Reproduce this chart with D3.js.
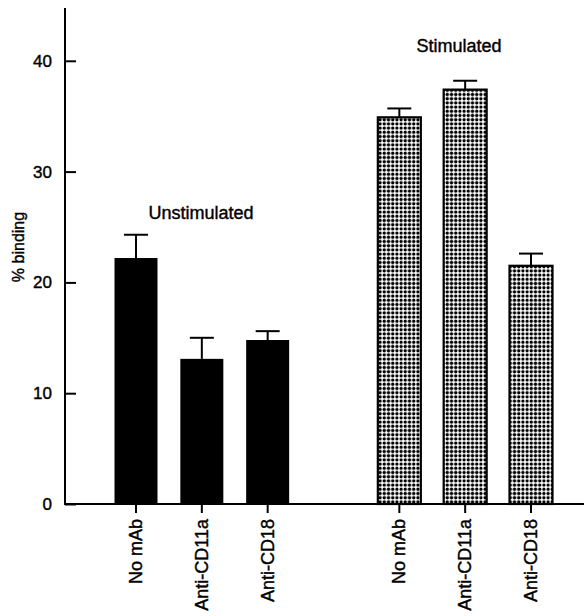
<!DOCTYPE html>
<html>
<head>
<meta charset="utf-8">
<script src="https://cdn.jsdelivr.net/npm/d3@7"></script>
<style>
  body { margin: 0; background: #fff; }
  text { font-family: "Liberation Sans", Arial, Helvetica, sans-serif; fill: #000; stroke: #000; stroke-width: 0.4px; }
</style>
</head>
<body>
<div id="chart"></div>
<script>
// data
let groups = ["Unstimulated", "Stimulated"];
let treatments = ["No mAb", "Anti-CD11a", "Anti-CD18"];
let unstimMean = [22.2, 13.1, 14.8];
let unstimErr = [2.1, 1.9, 0.8];
let stimMean = [34.9, 37.4, 21.5];
let stimErr = [0.8, 0.8, 1.1];
let yTicks = [0, 10, 20, 30, 40];

const W = 584, H = 616;
const svg = d3.select("#chart").append("svg")
    .attr("width", W)
    .attr("height", H);

// dot fill for stimulated bars
const defs = svg.append("defs");
const pat = defs.append("pattern")
    .attr("id", "dots")
    .attr("patternUnits", "userSpaceOnUse")
    .attr("width", 4.2)
    .attr("height", 4.2);
pat.append("rect").attr("width", 4.2).attr("height", 4.2).attr("fill", "#fff");
pat.append("circle").attr("cx", 2.1).attr("cy", 2.1).attr("r", 1.65).attr("fill", "#000");

const axisX = 65, baseY = 504;

const y = d3.scaleLinear()
    .domain([0, 10])
    .range([baseY, baseY - 110.8]);

// slot position: 3 bars, one empty slot, 3 bars
const x = d3.scaleLinear()
    .domain([0, 6])
    .range([136, 531]);
const barW = 43;

let bars = [];
groups.forEach((g, gi) => {
    let means = gi === 0 ? unstimMean : stimMean;
    let errs = gi === 0 ? unstimErr : stimErr;
    treatments.forEach((t, i) => {
        bars.push({ group: g, gi: gi, name: t, slot: gi * 4 + i, mean: means[i], err: errs[i] });
    });
});

// y axis, ticks pointing inward
const yAxis = d3.axisRight(y)
    .tickValues(yTicks)
    .tickSize(11)
    .tickFormat("");
const ya = svg.append("g")
    .attr("transform", `translate(${axisX},0)`)
    .call(yAxis);
ya.select(".domain").remove();
ya.selectAll(".tick line").attr("stroke", "#000").attr("stroke-width", 2);

svg.append("line")
    .attr("x1", axisX).attr("x2", axisX)
    .attr("y1", 8).attr("y2", baseY + 1)
    .attr("stroke", "#000").attr("stroke-width", 2);

svg.append("g").selectAll("text")
    .data(yTicks)
    .join("text")
    .attr("x", 52)
    .attr("y", d => y(d) + 6)
    .attr("text-anchor", "end")
    .style("font-size", "17px")
    .text(d => d);

svg.append("text")
    .attr("transform", `translate(24,247) rotate(-90)`)
    .attr("text-anchor", "middle")
    .style("font-size", "16px")
    .text("% binding");

// bars
svg.append("g").selectAll("rect")
    .data(bars)
    .join("rect")
    .attr("x", d => x(d.slot) - barW / 2)
    .attr("y", d => y(d.mean))
    .attr("width", barW)
    .attr("height", d => baseY - y(d.mean))
    .attr("fill", d => d.gi === 0 ? "#000" : "url(#dots)")
    .attr("stroke", "#000")
    .attr("stroke-width", d => d.gi === 0 ? 0 : 2.2);

// error bars (upper only)
const eb = svg.append("g")
    .attr("stroke", "#000")
    .attr("stroke-width", 2);
eb.selectAll("line.v")
    .data(bars)
    .join("line")
    .attr("class", "v")
    .attr("x1", d => x(d.slot)).attr("x2", d => x(d.slot))
    .attr("y1", d => y(d.mean)).attr("y2", d => y(d.mean + d.err));
eb.selectAll("line.cap")
    .data(bars)
    .join("line")
    .attr("class", "cap")
    .attr("x1", d => x(d.slot) - 12).attr("x2", d => x(d.slot) + 12)
    .attr("y1", d => y(d.mean + d.err)).attr("y2", d => y(d.mean + d.err));

// baseline and x ticks
svg.append("line")
    .attr("x1", axisX).attr("x2", W)
    .attr("y1", baseY).attr("y2", baseY)
    .attr("stroke", "#000").attr("stroke-width", 2);

svg.append("g").selectAll("line")
    .data(bars)
    .join("line")
    .attr("x1", d => x(d.slot)).attr("x2", d => x(d.slot))
    .attr("y1", baseY).attr("y2", baseY + 9)
    .attr("stroke", "#000").attr("stroke-width", 2);

svg.append("g").selectAll("text")
    .data(bars)
    .join("text")
    .attr("transform", d => `translate(${x(d.slot) + 6},519) rotate(-90)`)
    .attr("text-anchor", "end")
    .style("font-size", "18px")
    .text(d => d.name);

// group labels
svg.append("text")
    .attr("x", 201).attr("y", 219)
    .attr("text-anchor", "middle")
    .style("font-size", "18px")
    .text(groups[0]);
svg.append("text")
    .attr("x", 459).attr("y", 52)
    .attr("text-anchor", "middle")
    .style("font-size", "18px")
    .text(groups[1]);
</script>
</body>
</html>
